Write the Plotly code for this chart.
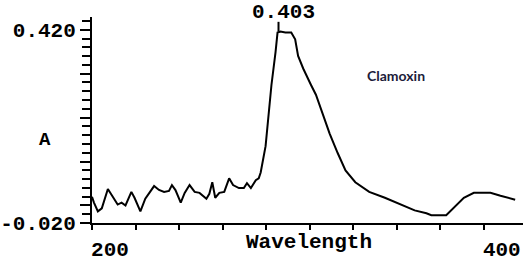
import plotly.graph_objects as go

# Spectrum (wavelength in nm, absorbance A)
wavelength = [200.0, 201.0, 203.0, 205.0, 208.1, 210.6, 213.1, 215.1, 217.1, 220.1,
              221.7, 224.7, 227.2, 231.7, 234.2, 236.8, 239.3, 240.8, 242.6, 245.3,
              247.3, 249.8, 252.4, 254.9, 258.4, 259.9, 261.4, 262.9, 265.0, 267.5,
              270.0, 272.0, 275.0, 277.5, 279.1, 281.1, 283.6, 285.1, 286.1, 288.6,
              290.1, 291.6, 293.7, 294.7, 296.2, 298.7, 301.7, 303.7, 305.2, 307.8,
              311.8, 314.3, 317.8, 321.3, 325.4, 329.4, 334.4, 341.5, 349.5, 358.1,
              364.7, 370.7, 373.2, 380.8, 384.8, 389.8, 394.9, 403.4, 408.5, 416.0]
absorbance = [0.0397, 0.0265, 0.0065, 0.0132, 0.0574, 0.0397, 0.0220, 0.0265, 0.0198, 0.0508,
              0.0375, 0.0065, 0.0353, 0.0641, 0.0552, 0.0508, 0.0530, 0.0663, 0.0550, 0.0265,
              0.0486, 0.0663, 0.0508, 0.0486, 0.0353, 0.0464, 0.0729, 0.0375, 0.0486, 0.0508,
              0.0818, 0.0663, 0.0596, 0.0596, 0.0707, 0.0596, 0.0773, 0.0818, 0.0950, 0.1548,
              0.2212, 0.2942, 0.3694, 0.4136, 0.4158, 0.4136, 0.4136, 0.3981, 0.3605, 0.3318,
              0.2942, 0.2720, 0.2278, 0.1835, 0.1393, 0.0995, 0.0729, 0.0508, 0.0375, 0.0220,
              0.0088, 0.0021, -0.0023, -0.0023, 0.0154, 0.0375, 0.0486, 0.0486, 0.0419, 0.0331]

peak_label = "0.403"
peak_nm = 295.2
peak_marker_A = [0.416, 0.438]

x_tick_values = [200 + 200 / 9 * i for i in range(10)]
x_tick_text = ["200"] + [""] * 8 + ["400"]
y_tick_values = [-0.02, 0.02, 0.12, 0.22, 0.32, 0.42]
y_tick_text = ["-0.020", "", "", "", "", "0.420"]

x_title = "Wavelength"
y_title = "A"
sample_name = "Clamoxin"

mono = "Liberation Mono"

fig = go.Figure()
fig.add_trace(go.Scatter(x=wavelength, y=absorbance, mode="lines",
                         line=dict(color="black", width=2), hoverinfo="skip"))
fig.add_trace(go.Scatter(x=[peak_nm, peak_nm], y=peak_marker_A, mode="lines",
                         line=dict(color="black", width=2), hoverinfo="skip"))

bold_mono = dict(family=mono, size=21, color="black", weight="bold")

fig.update_layout(
    width=523, height=262,
    margin=dict(l=86, r=0, t=17, b=33),
    paper_bgcolor="white", plot_bgcolor="white",
    showlegend=False,
    xaxis=dict(range=[200, 420], showgrid=False, zeroline=False,
               showline=True, linecolor="black", linewidth=2,
               ticks="outside", ticklen=5, tickwidth=2, tickcolor="black",
               tickvals=x_tick_values, ticktext=x_tick_text,
               ticklabelshift=18, ticklabelstandoff=1,
               tickfont=bold_mono),
    yaxis=dict(range=[-0.020, 0.449], showgrid=False, zeroline=False,
               showline=True, linecolor="black", linewidth=2,
               ticks="outside", ticklen=10, tickwidth=2, tickcolor="black",
               tickvals=y_tick_values, ticktext=y_tick_text,
               tickfont=bold_mono,
               minor=dict(tick0=-0.02, dtick=0.02, ticks="outside", ticklen=8,
                          tickwidth=2, tickcolor="black", showgrid=False)),
    annotations=[
        dict(text=x_title, xref="x", yref="paper", x=311.0, y=-0.03,
             xanchor="center", yanchor="top", showarrow=False,
             font=bold_mono),
        dict(text=y_title, xref="paper", yref="y", x=-0.11, y=0.17,
             xanchor="center", yanchor="middle", showarrow=False,
             font=dict(family=mono, size=19, color="black", weight="bold")),
        dict(text=peak_label, xref="x", yref="paper", x=297.7, y=1.02,
             xanchor="center", yanchor="middle", showarrow=False,
             font=bold_mono),
        dict(text="<b>" + sample_name + "</b>", xref="x", yref="y", x=355.0, y=0.316,
             xanchor="center", yanchor="middle", showarrow=False,
             font=dict(family="Lato", size=14, color="#1c1c3a")),
    ],
)

fig.write_html("out.html")
